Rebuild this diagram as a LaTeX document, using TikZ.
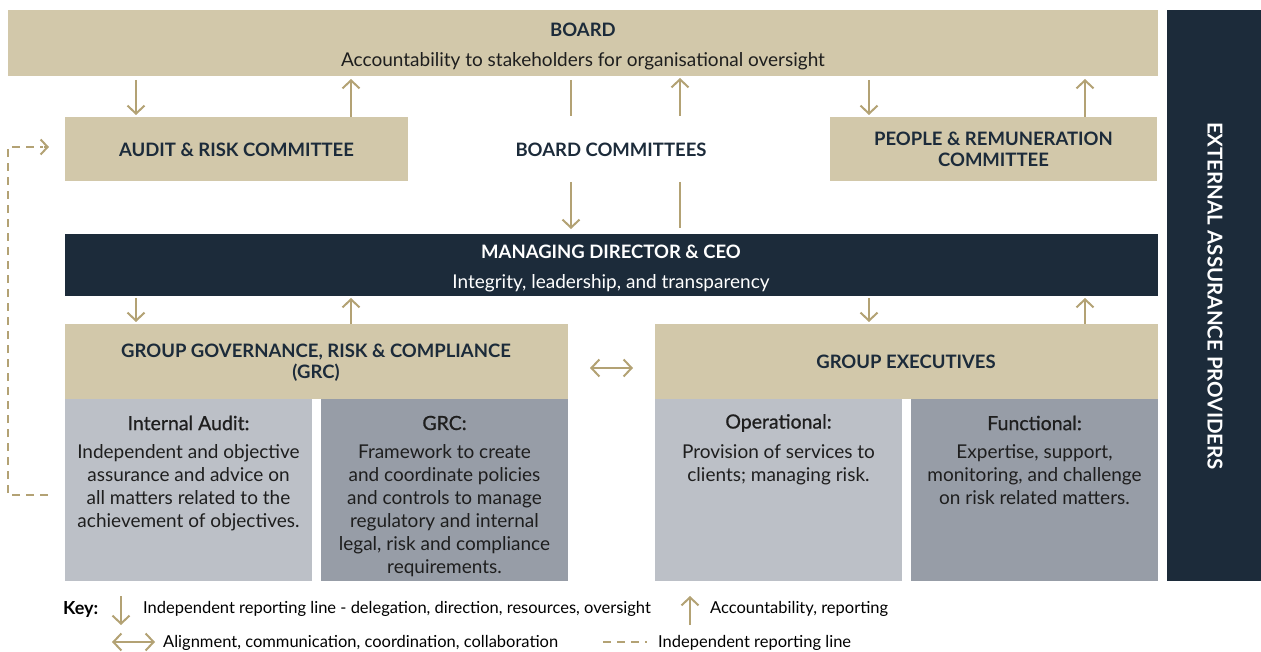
\documentclass[tikz,border=0pt]{standalone}
\usepackage{fontspec}
\setmainfont{Lato}
\newfontfamily\medfont[FakeBold=0.8]{Lato}
\usetikzlibrary{arrows.meta,calc}
\definecolor{tanc}{HTML}{D2C8AA}
\definecolor{navy}{HTML}{1C2B3A}
\definecolor{gold}{HTML}{B3A274}
\definecolor{lgray}{HTML}{BCC0C7}
\definecolor{dgray}{HTML}{979DA7}
\definecolor{ink}{HTML}{1E1E1E}
\begin{document}
\begin{tikzpicture}[x=1pt,y=-1pt,
  blk/.style={inner sep=0pt,outer sep=0pt,anchor=north west,draw=none},
  tanbox/.style={blk,fill=tanc},
  navybox/.style={blk,fill=navy},
  lbox/.style={blk,fill=lgray},
  dbox/.style={blk,fill=dgray},
  hdr/.style={font=\bfseries\fontsize{18.5}{22}\selectfont,text=navy,align=center,inner sep=0pt},
  body/.style={font=\fontsize{19}{23}\selectfont,text=ink,align=center,inner sep=0pt,anchor=north},
  sub/.style={font=\medfont\fontsize{19.5}{23}\selectfont,text=ink,inner sep=0pt},
  line/.style={draw=gold,line width=2pt},
  barb/.tip={Straight Barb[length=8pt,width=17pt,line width=2pt]},
  dn/.style={line,-barb},
  keyt/.style={font=\fontsize{16.5}{18}\selectfont,text=black,anchor=west,inner sep=0pt},
  dsh/.style={draw=gold,line width=2pt,dash pattern=on 8pt off 6pt}
]
\useasboundingbox (0,0) rectangle (1261,652);

% boxes
\node[tanbox,minimum width=1150pt,minimum height=66pt] (board) at (8,10) {};
\node[navybox,minimum width=94pt,minimum height=571pt] (ext) at (1167,10) {};
\node[tanbox,minimum width=343pt,minimum height=64pt] (arc) at (65,117) {};
\node[tanbox,minimum width=327pt,minimum height=64pt] (prc) at (830,117) {};
\node[navybox,minimum width=1093pt,minimum height=62pt] (ceo) at (65,234) {};
\node[tanbox,minimum width=503pt,minimum height=75pt] (grc) at (65,324) {};
\node[tanbox,minimum width=503pt,minimum height=75pt] (gex) at (655,324) {};
\node[lbox,minimum width=247pt,minimum height=182pt] (ia) at (65,399) {};
\node[dbox,minimum width=247pt,minimum height=182pt] (grcb) at (321,399) {};
\node[lbox,minimum width=247pt,minimum height=182pt] (op) at (655,399) {};
\node[dbox,minimum width=247pt,minimum height=182pt] (fn) at (911,399) {};

% texts
\node[hdr] (boardt) at (583,30) {BOARD};
\node[body,anchor=center] (boards) at (583,61) {Accountability to stakeholders for organisational oversight};
\node[hdr] (arct) at (236.5,150) {AUDIT \& RISK COMMITTEE};
\node[hdr] (prct) at (993.5,149) {PEOPLE \& REMUNERATION\\[-1pt]COMMITTEE};
\node[hdr] (bc) at (611,150) {BOARD COMMITTEES};
\node[hdr,text=white] (ceot) at (611,252) {MANAGING DIRECTOR \& CEO};
\node[body,anchor=center,text=white] (ceos) at (611,283) {Integrity, leadership, and transparency};
\node[hdr] (grct) at (316,363) {GROUP GOVERNANCE, RISK \& COMPLIANCE\\[-1pt](GRC)};
\node[hdr] (gext) at (906,362) {GROUP EXECUTIVES};
\node[hdr,text=white,rotate=-90,font=\bfseries\fontsize{20.5}{22}\selectfont] (extt) at (1215,296) {EXTERNAL ASSURANCE PROVIDERS};

\node[sub] (iat) at (188.5,423) {Internal Audit:};
\node[body] (iab) at (188.5,444) {Independent and objective\\assurance and advice on\\all matters related to the\\achievement of objectives.};
\node[sub] (grcbt) at (444.5,423) {GRC:};
\node[body] (grcbb) at (444.5,444) {Framework to create\\and coordinate policies\\and controls to manage\\regulatory and internal\\legal, risk and compliance\\requirements.};
\node[sub] (opt) at (778.5,423) {Operational:};
\node[body] (opb) at (778.5,444) {Provision of services to\\clients; managing risk.};
\node[sub] (fnt) at (1034.5,423) {Functional:};
\node[body] (fnb) at (1034.5,444) {Expertise, support,\\monitoring, and challenge\\on risk related matters.};

% connectors board <-> committees
\draw[dn] ([xshift=128pt,yshift=-4pt]board.south west) -- ([xshift=71pt,yshift=2pt]arc.north west);
\draw[dn] ([xshift=286pt]arc.north west) -- ([xshift=343pt,yshift=-3pt]board.south west);
\draw[line] ([xshift=563pt,yshift=-4pt]board.south west) -- ([xshift=563pt,yshift=-40pt]board.south west);
\draw[dn] ([xshift=672pt,yshift=-40pt]board.south west) -- ([xshift=672pt,yshift=-2pt]board.south west);
\draw[dn] ([xshift=861pt,yshift=-4pt]board.south west) -- ([xshift=39pt,yshift=2pt]prc.north west);
\draw[dn] ([xshift=255pt]prc.north west) -- ([xshift=1077pt,yshift=-3pt]board.south west);
% board committees -> CEO
\draw[dn] ([xshift=506pt,yshift=52pt]ceo.north west) -- ([xshift=506pt,yshift=5pt]ceo.north west);
\draw[line] ([xshift=615pt,yshift=52pt]ceo.north west) -- ([xshift=615pt,yshift=6pt]ceo.north west);
% CEO <-> GRC / executives
\draw[dn] ([xshift=71pt,yshift=-2pt]ceo.south west) -- ([xshift=71pt,yshift=2pt]grc.north west);
\draw[dn] ([xshift=286pt]grc.north west) -- ([xshift=286pt,yshift=-2pt]ceo.south west);
\draw[dn] ([xshift=804pt,yshift=-2pt]ceo.south west) -- ([xshift=214pt,yshift=2pt]gex.north west);
\draw[dn] ([xshift=430pt]gex.north west) -- ([xshift=1020pt,yshift=-2pt]ceo.south west);
% GRC <-> executives
\draw[line,barb-barb] ([xshift=22pt,yshift=-44pt]grc.north east) -- ([xshift=-22pt,yshift=-44pt]gex.north west);

% dashed independent line
\coordinate (dsa) at ([xshift=-17pt,yshift=-96pt]ia.north west);
\coordinate (dsb) at (8,495);
\coordinate (dsc) at (8,147);
\coordinate (dsd) at ([xshift=-16pt,yshift=2pt]arc.west);
\draw[dsh] (dsa) -- (dsb) -- (dsc) -- ([xshift=-6pt]dsd);
\draw[line,{Straight Barb[length=7pt,width=15pt,line width=2pt]}-] (dsd) -- ([xshift=-5pt]dsd);

% key
\node[font=\bfseries\fontsize{18}{20}\selectfont,anchor=west,inner sep=0pt] (key) at (63,609) {Key:};
\coordinate (k1a) at (121,596);
\coordinate (k1b) at (121,625);
\draw[dn] (k1a) -- (k1b);
\node[keyt] (k1t) at (143,609) {Independent reporting line - delegation, direction, resources, oversight};
\coordinate (k2a) at (690,625);
\coordinate (k2b) at (690,596);
\draw[dn] (k2a) -- (k2b);
\node[keyt] (k2t) at (710,609) {Accountability, reporting};
\coordinate (k3a) at (112,642);
\coordinate (k3b) at (155,642);
\draw[line,barb-barb] (k3a) -- (k3b);
\node[keyt] (k3t) at (163,643) {Alignment, communication, coordination, collaboration};
\coordinate (k4a) at (603,642);
\coordinate (k4b) at (647,642);
\draw[dsh] (k4a) -- (k4b);
\node[keyt] (k4t) at (658,643) {Independent reporting line};
\end{tikzpicture}
\end{document}
